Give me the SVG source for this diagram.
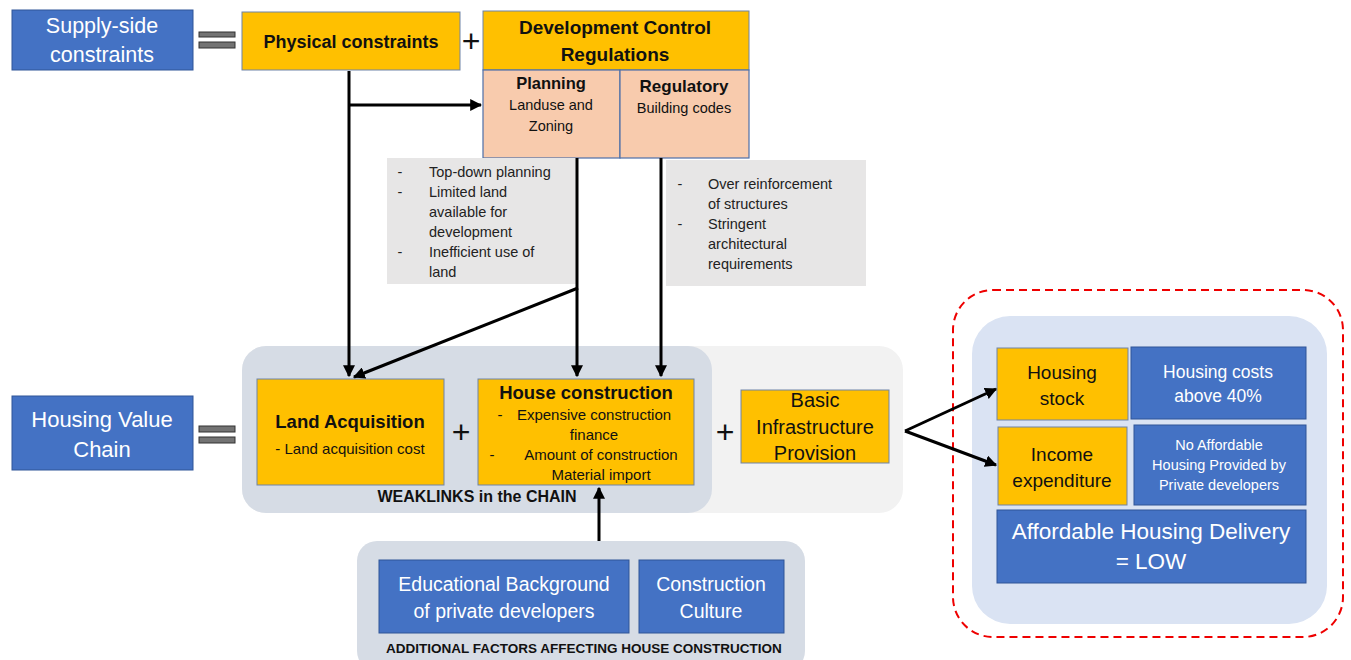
<svg xmlns="http://www.w3.org/2000/svg" width="1351" height="660" viewBox="0 0 1351 660">
<defs>
<marker id="ah" viewBox="0 0 10 10" refX="9" refY="5" markerWidth="4" markerHeight="4" orient="auto"><path d="M0,0 L10,5 L0,10 z" fill="#000"/></marker>
<style>
text{font-family:"Liberation Sans",Arial,sans-serif;text-anchor:middle}
.blue{fill:#4472C4;stroke:#2F5597;stroke-width:1}
.org{fill:#FFC000;stroke:#6F83A8;stroke-width:1}
.pink{fill:#F8CBAD;stroke:#4D6FA8;stroke-width:1.2}
.gray{fill:#E7E6E6}
.wt{fill:#fff}
.bk{fill:#111}
.eq{fill:#737373;stroke:#333;stroke-width:1}
.ln{stroke:#000;stroke-width:3;fill:none}
.plus{font-size:32px;fill:#111}
.st{text-anchor:start}
</style>
</defs>
<rect width="1351" height="660" fill="#fff"/>

<g id="supply">
<rect class="blue" x="12" y="10" width="181" height="60"/>
<text class="wt" x="102" y="33" font-size="21.5">Supply-side</text>
<text class="wt" x="102" y="62" font-size="21.5">constraints</text>
<rect class="eq" x="199" y="32" width="36" height="5"/>
<rect class="eq" x="199" y="42" width="36" height="6"/>
</g>

<g id="physical">
<rect class="org" x="242" y="12" width="218" height="58"/>
<text class="bk" x="351" y="48" font-size="18" font-weight="bold">Physical constraints</text>
</g>
<text class="plus" x="471" y="52">+</text>

<g id="dcr">
<rect class="org" x="483" y="11" width="266" height="59"/>
<text class="bk" x="615" y="34" font-size="19" font-weight="bold">Development Control</text>
<text class="bk" x="615" y="61" font-size="19" font-weight="bold">Regulations</text>
<rect class="pink" x="483" y="70" width="137" height="88"/>
<rect class="pink" x="620" y="70" width="129" height="88"/>
<text class="bk" x="551" y="89" font-size="16.5" font-weight="bold">Planning</text>
<text class="bk" x="551" y="110" font-size="14.5">Landuse and</text>
<text class="bk" x="551" y="131" font-size="14.5">Zoning</text>
<text class="bk" x="684" y="92" font-size="17" font-weight="bold">Regulatory</text>
<text class="bk" x="684" y="113" font-size="14.5">Building codes</text>
</g>

<g id="notes-planning">
<rect class="gray" x="387" y="158" width="190" height="126"/>
<g font-size="14.5" fill="#222">
<text x="400" y="177">-</text><text class="st" x="429" y="177">Top-down planning</text>
<text x="400" y="197">-</text><text class="st" x="429" y="197">Limited land</text>
<text class="st" x="429" y="217">available for</text>
<text class="st" x="429" y="237">development</text>
<text x="400" y="257">-</text><text class="st" x="429" y="257">Inefficient use of</text>
<text class="st" x="429" y="277">land</text>
</g>
</g>

<g id="notes-regulatory">
<rect class="gray" x="666" y="160" width="200" height="126"/>
<g font-size="14.5" fill="#222">
<text x="680" y="189">-</text><text class="st" x="708" y="189">Over reinforcement</text>
<text class="st" x="708" y="209">of structures</text>
<text x="680" y="229">-</text><text class="st" x="708" y="229">Stringent</text>
<text class="st" x="708" y="249">architectural</text>
<text class="st" x="708" y="269">requirements</text>
</g>
</g>

<g id="chain-bg">
<rect x="242" y="346" width="661" height="167" rx="24" fill="#F2F2F2"/>
<rect x="242" y="346" width="470" height="167" rx="24" fill="#D6DCE5"/>
<text class="bk" x="477" y="502" font-size="16" font-weight="bold">WEAKLINKS in the CHAIN</text>
</g>

<g id="hvc">
<rect class="blue" x="12" y="396" width="181" height="74"/>
<text class="wt" x="102" y="427" font-size="22">Housing Value</text>
<text class="wt" x="102" y="457" font-size="22">Chain</text>
<rect class="eq" x="199" y="426" width="36" height="6"/>
<rect class="eq" x="199" y="437" width="36" height="6"/>
</g>

<g id="land">
<rect class="org" x="257" y="379" width="187" height="106"/>
<text class="bk" x="350" y="428" font-size="18.5" font-weight="bold">Land Acquisition</text>
<text class="bk" x="350" y="454" font-size="15">- Land acquisition cost</text>
</g>
<text class="plus" x="461" y="443">+</text>

<g id="house">
<rect class="org" x="478" y="379" width="216" height="106"/>
<text class="bk" x="586" y="399" font-size="18.5" font-weight="bold">House construction</text>
<text class="bk" x="500" y="420" font-size="15">-</text>
<text class="bk" x="594" y="420" font-size="15">Expensive construction</text>
<text class="bk" x="594" y="440" font-size="15">finance</text>
<text class="bk" x="492" y="460" font-size="15">-</text>
<text class="bk" x="601" y="460" font-size="15">Amount  of construction</text>
<text class="bk" x="601" y="480" font-size="15">Material import</text>
</g>
<text class="plus" x="725" y="443">+</text>

<g id="infra">
<rect class="org" x="741" y="390" width="148" height="73"/>
<text class="bk" x="815" y="407" font-size="20">Basic</text>
<text class="bk" x="815" y="434" font-size="20">Infrastructure</text>
<text class="bk" x="815" y="460" font-size="20">Provision</text>
</g>

<g id="outcome">
<rect x="953" y="290" width="390" height="347" rx="40" fill="none" stroke="#E00" stroke-width="2" stroke-dasharray="8,5"/>
<rect x="972" y="316" width="355" height="308" rx="38" fill="#DAE3F3"/>
<rect class="org" x="997" y="348" width="131" height="72"/>
<text class="bk" x="1062" y="379" font-size="19">Housing</text>
<text class="bk" x="1062" y="405" font-size="19">stock</text>
<rect class="blue" x="1131" y="347" width="175" height="72"/>
<text class="wt" x="1218" y="378" font-size="17.5">Housing costs</text>
<text class="wt" x="1218" y="402" font-size="17.5">above 40%</text>
<rect class="org" x="998" y="427" width="129" height="78"/>
<text class="bk" x="1062" y="461" font-size="19">Income</text>
<text class="bk" x="1062" y="487" font-size="19">expenditure</text>
<rect class="blue" x="1134" y="425" width="172" height="80"/>
<text class="wt" x="1219" y="450" font-size="14.5">No Affordable</text>
<text class="wt" x="1219" y="470" font-size="14.5">Housing Provided by</text>
<text class="wt" x="1219" y="490" font-size="14.5">Private developers</text>
<rect class="blue" x="997" y="510" width="309" height="73"/>
<text class="wt" x="1151" y="539" font-size="22.5">Affordable Housing Delivery</text>
<text class="wt" x="1151" y="569" font-size="22.5">= LOW</text>
</g>

<g id="additional">
<rect x="357" y="541" width="448" height="130" rx="20" fill="#D6DCE5"/>
<rect class="blue" x="379" y="560" width="250" height="73"/>
<text class="wt" x="504" y="591" font-size="19.5">Educational Background</text>
<text class="wt" x="504" y="618" font-size="19.5">of private developers</text>
<rect class="blue" x="639" y="560" width="145" height="73"/>
<text class="wt" x="711" y="591" font-size="19.5">Construction</text>
<text class="wt" x="711" y="618" font-size="19.5">Culture</text>
<text class="bk" x="584" y="653" font-size="13.5" font-weight="bold">ADDITIONAL FACTORS AFFECTING HOUSE CONSTRUCTION</text>
</g>

<g id="connectors">
<line class="ln" x1="349" y1="71" x2="349" y2="376" marker-end="url(#ah)"/>
<line class="ln" x1="349" y1="105" x2="481" y2="105" marker-end="url(#ah)"/>
<line class="ln" x1="577" y1="158" x2="577" y2="376" marker-end="url(#ah)"/>
<line class="ln" x1="578" y1="288" x2="354" y2="377" marker-end="url(#ah)"/>
<line class="ln" x1="661" y1="158" x2="661" y2="376" marker-end="url(#ah)"/>
<line class="ln" x1="599" y1="541" x2="599" y2="488" marker-end="url(#ah)"/>
<line class="ln" x1="905" y1="431" x2="996" y2="389" marker-end="url(#ah)"/>
<line class="ln" x1="905" y1="431" x2="996" y2="465" marker-end="url(#ah)"/>
</g>
</svg>
